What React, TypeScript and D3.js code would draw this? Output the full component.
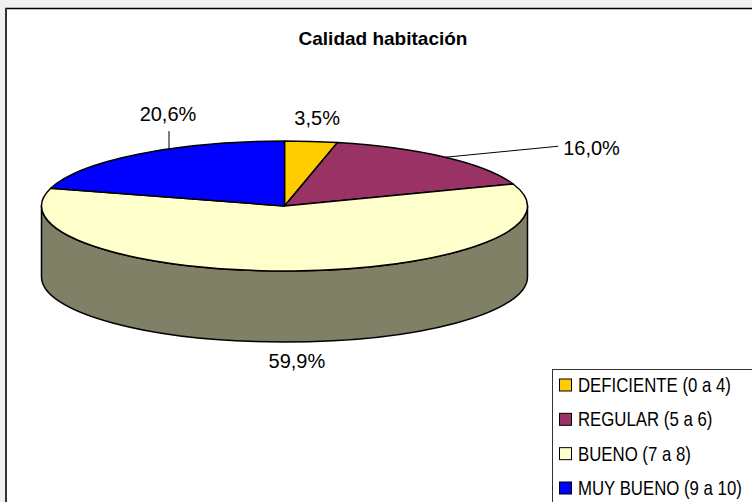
import * as d3 from 'd3';

const title = 'Calidad habitación';
const categories = ['DEFICIENTE (0 a 4)', 'REGULAR (5 a 6)', 'BUENO (7 a 8)', 'MUY BUENO (9 a 10)'];
const values = [3.5, 16.0, 59.9, 20.6];
const valueLabels = ['3,5%', '16,0%', '59,9%', '20,6%'];
const colors = ['#FFCC00', '#993366', '#FFFFCC', '#0000FF'];

// where each percentage label sits relative to its slice's edge point (Excel layout)
const labelOffsets = [
  { dx: 6, dy: -23, anchor: 'middle', leader: 'none' },
  { dx: 118, dy: -9, anchor: 'start', leader: 'radial' },
  { dx: 4, dy: 19, anchor: 'middle', leader: 'none' },
  { dx: 30, dy: -40, anchor: 'middle', leader: 'vertical' },
];

const W = 752;
const H = 502;
const cx = 284.5;
const cy = 206;
const rx = 243;
const ry = 65;
const depth = 71;
const font = "Arial, 'Liberation Sans', sans-serif";

function pt(a: number, dy = 0): [number, number] {
  return [cx + rx * Math.sin(a), cy - ry * Math.cos(a) + dy];
}

function topPath(s: number, e: number) {
  const [x0, y0] = pt(s);
  const [x1, y1] = pt(e);
  const large = e - s > Math.PI ? 1 : 0;
  return `M${cx},${cy}L${x0},${y0}A${rx},${ry} 0 ${large} 1 ${x1},${y1}Z`;
}

// only the front half of the wall is visible
function sidePath(s: number, e: number) {
  const a0 = Math.max(s, Math.PI / 2);
  const a1 = Math.min(e, (3 * Math.PI) / 2);
  if (a0 >= a1) return null;
  const [x0, y0] = pt(a0);
  const [x1, y1] = pt(a1);
  const [x2, y2] = pt(a1, depth);
  const [x3, y3] = pt(a0, depth);
  return `M${x0},${y0}A${rx},${ry} 0 0 1 ${x1},${y1}L${x2},${y2}A${rx},${ry} 0 0 0 ${x3},${y3}Z`;
}

function darker(c: string) {
  const r = d3.rgb(c);
  return d3.rgb(r.r / 2, r.g / 2, r.b / 2).formatHex();
}

export default function App() {
  const arcs = d3.pie<number>().sort(null)(values);

  const legendY = d3.scalePoint<string>().domain(categories).range([385, 488]);

  return (
    <svg
      width={W}
      height={H}
      style={{ display: 'block', position: 'absolute', left: 0, top: 0 }}
      fontFamily={font}
    >
      <rect x={0} y={0} width={W} height={H} fill="#f0f0f0" />
      <rect x={6} y={8.5} width={W + 20} height={H + 20} fill="#fff" stroke="#000" strokeWidth={1.5} />
      <line x1={6} x2={6} y1={8} y2={H} stroke="#333" strokeWidth={2} />

      <text x={383} y={45} textAnchor="middle" fontSize={19} fontWeight="bold" fill="#000">
        {title}
      </text>

      {arcs.map((a, i) => {
        const d = sidePath(a.startAngle, a.endAngle);
        return d ? (
          <path key={'s' + i} d={d} fill={darker(colors[i])} stroke="#000" strokeWidth={1.5} strokeLinejoin="round" />
        ) : null;
      })}
      {arcs.map((a, i) => (
        <path key={'t' + i} d={topPath(a.startAngle, a.endAngle)} fill={colors[i]} stroke="#000" strokeWidth={1.5} strokeLinejoin="round" />
      ))}

      {arcs.map((a, i) => {
        const mid = (a.startAngle + a.endAngle) / 2;
        const front = Math.cos(mid) < 0;
        const [ax, ay] = pt(mid, front ? depth : 0);
        const o = labelOffsets[i];
        const lx = ax + o.dx;
        const ly = ay + o.dy;
        let leader = null;
        if (o.leader === 'radial') {
          leader = <line x1={ax} y1={ay} x2={lx - 5} y2={ly - 2} stroke="#000" strokeWidth={1} />;
        } else if (o.leader === 'vertical') {
          const t = (lx + 1 - cx) / rx;
          const ey = cy - ry * Math.sqrt(1 - t * t);
          leader = <line x1={lx + 1} y1={ly + 17} x2={lx + 1} y2={ey} stroke="#000" strokeWidth={1} />;
        }
        return (
          <g key={'l' + i}>
            {leader}
            <text x={lx} y={ly + 7} textAnchor={o.anchor} fontSize={20} fill="#000">
              {valueLabels[i]}
            </text>
          </g>
        );
      })}

      <rect x={552.5} y={369.5} width={220} height={150} fill="#fff" stroke="#333" strokeWidth={1} />
      {categories.map((c, i) => {
        const y = legendY(c) as number;
        return (
          <g key={c}>
            <rect x={559.5} y={y - 6} width={12} height={12} fill={colors[i]} stroke="#000" strokeWidth={1} />
            <text transform={`translate(578,${y + 7}) scale(0.84,1)`} fontSize={20} fill="#000">
              {c}
            </text>
          </g>
        );
      })}
    </svg>
  );
}
